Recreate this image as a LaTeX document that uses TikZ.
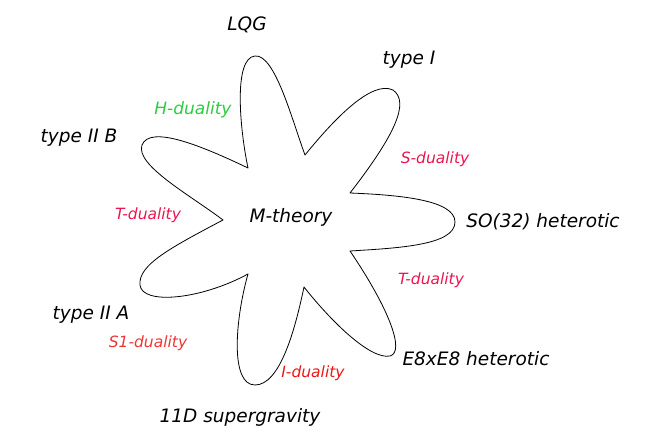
\documentclass[tikz,border=0pt]{standalone}
\usepackage{fontspec}
\setmainfont{DejaVu Sans}
\definecolor{crim}{HTML}{EC1450}
\definecolor{redA}{HTML}{F03434}
\definecolor{redB}{HTML}{EC1616}
\definecolor{grn}{HTML}{2ECC40}
\begin{document}
\begin{tikzpicture}[x=1pt,y=-1pt,
  theory/.style={font=\fontsize{18.5}{22}\selectfont\itshape, inner sep=0pt},
  duality/.style={font=\fontsize{15.5}{18}\selectfont\itshape, inner sep=0pt},
  flower/.style={draw=black, line width=0.8pt, line join=round}]
\useasboundingbox (0,0) rectangle (654,435);
\draw[flower] (248,168)
  .. controls (240,130) and (233,58) .. (255,56)
  .. controls (275,54) and (292,120) .. (305,155)
  .. controls (335,118) and (372,80) .. (393,90)
  .. controls (410,102) and (395,135) .. (350,193)
  .. controls (400,195) and (455,200) .. (455,222)
  .. controls (455,245) and (400,248) .. (350,251)
  .. controls (390,310) and (405,352) .. (390,356)
  .. controls (370,360) and (330,320) .. (304,287)
  .. controls (295,330) and (280,385) .. (255,385)
  .. controls (230,385) and (235,320) .. (248,274)
  .. controls (200,300) and (142,305) .. (140,285)
  .. controls (138,265) and (170,248) .. (223,220)
  .. controls (190,195) and (135,165) .. (142,145)
  .. controls (150,125) and (200,145) .. cycle;
\node[theory] (m) at (291,217) {M-theory};
\node[theory] (lqg) at (247,25) {LQG};
\node[theory] (t1) at (409,60) {type I};
\node[theory] (t2b) at (79,138) {type II B};
\node[theory] (so) at (543,222) {SO(32) heterotic};
\node[theory] (t2a) at (91,315) {type II A};
\node[theory] (e8) at (476,359) {E8xE8 heterotic};
\node[theory] (sg) at (240,417) {11D supergravity};
\node[duality, text=grn, font=\fontsize{17}{20}\selectfont\itshape] (hd) at (193,110) {H-duality};
\node[duality, text=crim] (sd) at (435,159) {S-duality};
\node[duality, text=crim] (tdl) at (148,215) {T-duality};
\node[duality, text=crim] (tdr) at (431,280) {T-duality};
\node[duality, text=redA] (s1d) at (148,343) {S1-duality};
\node[duality, text=redB] (id) at (313,373) {I-duality};
\end{tikzpicture}
\end{document}
